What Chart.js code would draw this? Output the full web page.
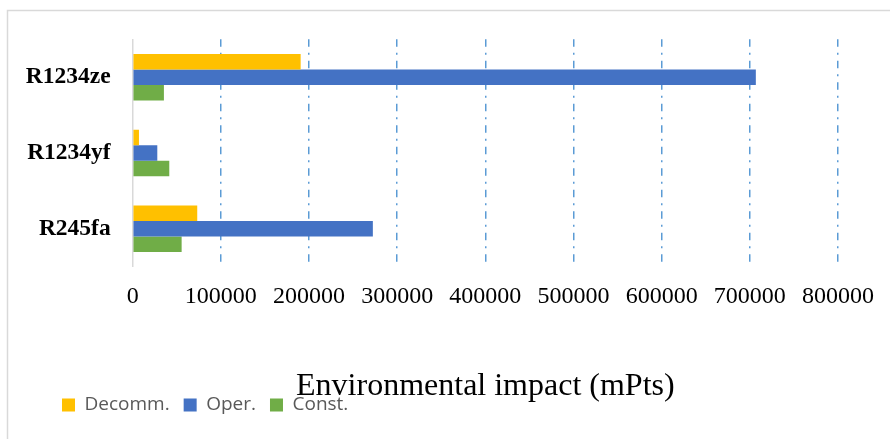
<!DOCTYPE html>
<html>
<head>
<meta charset="utf-8">
<script src="https://cdn.jsdelivr.net/npm/chart.js@4"></script>
<style>
  html, body { margin: 0; padding: 0; background: #ffffff; }
  #wrap { width: 890px; height: 439px; }
</style>
</head>
<body>
<div id="wrap"><canvas id="chart" width="890" height="439"></canvas></div>
<script>
// Refrigerants compared
const refrigerants = ['R1234ze', 'R1234yf', 'R245fa'];

// Environmental impact per life-cycle phase (mPts)
const decommValues = [190500, 7100, 73200];
const operValues = [706800, 27900, 272400];
const constValues = [35400, 41500, 55500];

// Axis ticks
const xTickValues = [0, 100000, 200000, 300000, 400000, 500000, 600000, 700000, 800000];

const seriesNames = ['Decomm.', 'Oper.', 'Const.'];
const seriesColors = ['#FFC000', '#4472C4', '#70AD47'];

// Light grey frame around the whole chart
const framePlugin = {
  id: 'frame',
  beforeDraw(chart) {
    const ctx = chart.ctx;
    ctx.save();
    ctx.fillStyle = '#ffffff';
    ctx.fillRect(0, 0, chart.width, chart.height);
    ctx.strokeStyle = '#d9d9d9';
    ctx.lineWidth = 1.5;
    ctx.strokeRect(7.5, 10.5, 1200, 1200);
    ctx.restore();
  }
};

// Indent the bottom legend from the left edge
const LEGEND_LEFT = 48;
const legendIndent = {
  id: 'legendIndent',
  afterLayout(chart) {
    if (chart.legend) chart.legend.left = LEGEND_LEFT;
  },
  beforeDraw(chart) {
    if (chart.legend) chart.legend.left = LEGEND_LEFT;
  }
};

new Chart(document.getElementById('chart'), {
  type: 'bar',
  data: {
    labels: refrigerants,
    datasets: [
      { label: seriesNames[0], data: decommValues, backgroundColor: seriesColors[0] },
      { label: seriesNames[1], data: operValues, backgroundColor: seriesColors[1] },
      { label: seriesNames[2], data: constValues, backgroundColor: seriesColors[2] }
    ]
  },
  options: {
    indexAxis: 'y',
    responsive: false,
    animation: false,
    devicePixelRatio: 1,
    layout: { padding: { left: 0, right: 50.7, top: 39.3, bottom: 14.5 } },
    datasets: {
      bar: { barPercentage: 1, categoryPercentage: 0.614, borderWidth: 0 }
    },
    scales: {
      x: {
        type: 'linear',
        min: 0,
        max: 800000,
        afterBuildTicks(scale) {
          scale.ticks = xTickValues.map(v => ({ value: v }));
        },
        afterFit(scale) { scale.height = 115; },
        grid: {
          drawTicks: false,
          lineWidth: 1.5,
          color: ctx => (ctx.tick && ctx.tick.value === 0) ? 'rgba(0,0,0,0)' : '#5B9BD5'
        },
        border: { display: false, dash: [7.5, 6, 2, 6] },
        ticks: {
          color: '#000000',
          padding: 16,
          maxRotation: 0,
          autoSkip: false,
          font: { family: '"Liberation Serif", "Times New Roman", serif', size: 24 },
          callback: v => String(v)
        },
        title: {
          display: true,
          text: 'Environmental impact (mPts)',
          color: '#000000',
          padding: { top: 0, bottom: -24 },
          font: { family: '"Liberation Serif", "Times New Roman", serif', size: 32 }
        }
      },
      y: {
        afterFit(scale) { scale.width = 132.7; },
        grid: { display: false, drawTicks: false },
        border: { display: true, color: '#d9d9d9', width: 1.5 },
        ticks: {
          color: '#000000',
          padding: 22,
          font: { family: '"Liberation Serif", "Times New Roman", serif', size: 23.5, weight: 'bold' }
        }
      }
    },
    plugins: {
      legend: {
        position: 'bottom',
        align: 'start',
        labels: {
          boxWidth: 13,
          boxHeight: 13,
          padding: 14,
          color: '#595959',
          font: { family: '"Open Sans", sans-serif', size: 19 }
        }
      },
      tooltip: { enabled: false }
    }
  },
  plugins: [framePlugin, legendIndent]
});
</script>
</body>
</html>
